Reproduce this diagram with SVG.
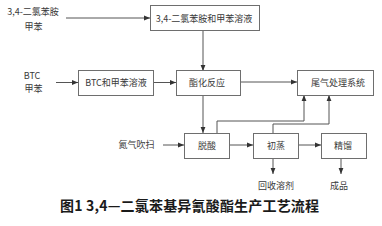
<svg xmlns="http://www.w3.org/2000/svg" width="382" height="226" viewBox="0 0 382 226">
<style>
.box{fill:#fff;stroke:#6e6e6e;stroke-width:1}
.t{font-family:"Noto Sans CJK SC","Liberation Sans",sans-serif;font-size:9px;fill:#3a3a3a;text-anchor:middle}
.ln{fill:none;stroke:#555;stroke-width:1}
.title{font-family:"Noto Sans CJK SC","Liberation Sans",sans-serif;font-size:14px;font-weight:bold;fill:#1a1a1a}
</style>
<defs>
<marker id="ah" viewBox="0 0 6 6" refX="6" refY="3" markerWidth="6" markerHeight="6" markerUnits="userSpaceOnUse" orient="auto">
<path d="M0,0.6 L6,3 L0,5.4 Z" fill="#333"/>
</marker>
</defs>
<rect width="382" height="226" fill="#fff"/>
<g id="labels">
<text class="t" x="33" y="15">3,4-二氯苯胺</text>
<text class="t" x="33.5" y="30">甲苯</text>
<text class="t" x="32" y="79">BTC</text>
<text class="t" x="33.5" y="92">甲苯</text>
<text class="t" x="136.5" y="147.5">氮气吹扫</text>
<text class="t" x="276" y="189">回收溶剂</text>
<text class="t" x="339" y="189">成品</text>
</g>
<g id="connectors">
<path class="ln" d="M66,18 H150" marker-end="url(#ah)"/>
<path class="ln" d="M56,82.5 H78" marker-end="url(#ah)"/>
<path class="ln" d="M153,82.5 H176" marker-end="url(#ah)"/>
<path class="ln" d="M203,31 V71" marker-end="url(#ah)"/>
<path class="ln" d="M240,82 H297" marker-end="url(#ah)"/>
<path class="ln" d="M203,95 V133" marker-end="url(#ah)"/>
<path class="ln" d="M217,133 V121 H304 V95" marker-end="url(#ah)"/>
<path class="ln" d="M273,133 V124 H329 V95" marker-end="url(#ah)"/>
<path class="ln" d="M163,145 H184" marker-end="url(#ah)"/>
<path class="ln" d="M229,145 H253" marker-end="url(#ah)"/>
<path class="ln" d="M298,145 H321" marker-end="url(#ah)"/>
<path class="ln" d="M273,158 V174" marker-end="url(#ah)"/>
<path class="ln" d="M341,158 V174" marker-end="url(#ah)"/>
</g>
<g id="n1"><rect class="box" x="150.5" y="5.5" width="109" height="25"/><text class="t" x="204" y="21.5">3,4-二氯苯胺和甲苯溶液</text></g>
<g id="n2"><rect class="box" x="78.5" y="70.5" width="75" height="25"/><text class="t" x="116" y="86">BTC和甲苯溶液</text></g>
<g id="n3"><rect class="box" x="176.5" y="70.5" width="64" height="25"/><text class="t" x="207" y="86">酯化反应</text></g>
<g id="n4"><rect class="box" x="297.5" y="70.5" width="76" height="25"/><text class="t" x="338" y="86">尾气处理系统</text></g>
<g id="n5"><rect class="box" x="184.5" y="133.5" width="45" height="25"/><text class="t" x="207" y="149">脱酸</text></g>
<g id="n6"><rect class="box" x="253.5" y="133.5" width="45" height="25"/><text class="t" x="276" y="149">初蒸</text></g>
<g id="n7"><rect class="box" x="321.5" y="133.5" width="45" height="25"/><text class="t" x="343" y="149">精馏</text></g>
<text class="title" x="60" y="211" textLength="259" lengthAdjust="spacing">图1 3,4—二氯苯基异氰酸酯生产工艺流程</text>
</svg>
